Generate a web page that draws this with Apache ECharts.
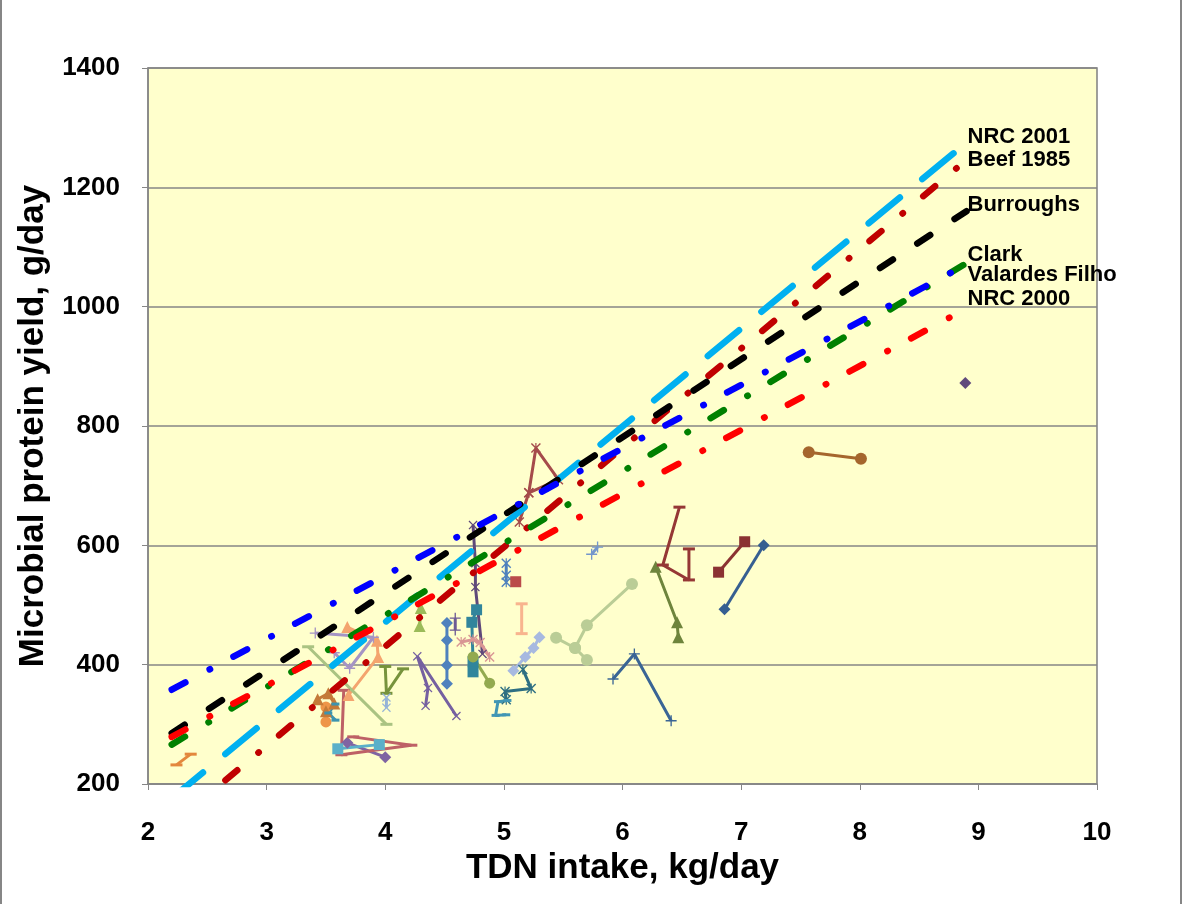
<!DOCTYPE html>
<html>
<head>
<meta charset="utf-8">
<script src="https://cdn.jsdelivr.net/npm/echarts@6/dist/echarts.min.js"></script>
<style>
  html, body { margin: 0; padding: 0; background: #fff; }
  #chart { width: 1183px; height: 904px; }
</style>
</head>
<body>
<div id="chart"></div>
<script>
// model lines, [TDN kg/day, MCP g/day]
var nrc2001   = [[2.2, 176], [8.9, 1275]];
var beef1985  = [[2.2, 131], [8.9, 1246]];
var burroughs = [[2.2, 285], [8.9, 1160]];
var clark     = [[2.2, 266], [8.9, 1073]];
var valadares = [[2.2, 358], [8.9, 1071]];
var nrc2000   = [[2.2, 279], [8.9, 997]];
var modelNames = ['NRC 2001', 'Beef 1985', 'Burroughs', 'Clark', 'Valardes Filho', 'NRC 2000'];

// observed trials
var orangeDash      = [[2.24, 232], [2.36, 250]];
var purpleDiamond   = [[3.68, 269], [4.0, 245]];
var roseDash        = [[3.65, 357], [3.63, 249], [4.22, 265], [3.73, 279]];
var aquaSquare      = [[3.6, 259], [3.95, 266]];
var orangeCircle    = [[3.5, 329], [3.5, 304]];
var brownTriangle   = [[3.43, 342], [3.52, 352], [3.57, 335], [3.5, 322]];
var tealCheck       = [[3.58, 334], [3.52, 319], [3.58, 307]];
var salmonTriangle  = [[3.68, 463], [3.93, 440], [3.94, 413], [3.69, 349]];
var lilacPlus       = [[3.41, 453], [3.9, 446], [3.7, 394], [3.57, 420]];
var sageDash        = [[3.35, 430], [4.01, 300]];
var oliveDash       = [[4.0, 397], [4.01, 352], [4.15, 393]];
var steelX          = [[4.01, 345], [4.01, 328]];
var greenTriangle   = [[4.3, 495], [4.29, 465]];
var purpleX         = [[4.34, 331], [4.36, 361], [4.27, 414], [4.6, 314]];
var blueDiamond     = [[4.52, 470], [4.52, 441], [4.52, 399], [4.52, 368]];
var plumPlus        = [[4.59, 478], [4.59, 458]];
var darkPurpleX     = [[4.74, 634], [4.76, 570], [4.76, 530], [4.82, 418]];
var tealSquare      = [[4.77, 492], [4.73, 471], [4.74, 405], [4.74, 388]];
var pinkStar        = [[4.64, 438], [4.74, 442], [4.8, 437], [4.88, 413]];
var oliveCircle     = [[4.74, 413], [4.88, 369]];
var blueX           = [[5.02, 570], [5.02, 550], [5.02, 538]];
var redSquare       = [[5.1, 539]];
var tealStar        = [[5.02, 341], [5.01, 355], [5.23, 360], [5.16, 392]];
var aquaDash        = [[5.03, 340], [4.95, 338], [4.93, 315], [5.02, 316]];
var lavenderDiamond = [[5.08, 390], [5.18, 413], [5.25, 428], [5.3, 446]];
var peachDash       = [[5.15, 502], [5.15, 452]];
var roseStar        = [[5.13, 639], [5.21, 688], [5.27, 763], [5.46, 710], [5.21, 688]];
var sageCircle      = [[5.44, 445], [5.6, 428], [5.7, 408], [5.6, 428], [5.7, 466], [6.08, 535]];
var skyPlus         = [[5.79, 597], [5.74, 585]];
var navyPlus        = [[5.92, 376], [6.1, 418], [6.41, 306]];
var oliveTriangle   = [[6.28, 564], [6.46, 471], [6.47, 446]];
var maroonDash      = [[6.48, 664], [6.34, 567], [6.56, 542], [6.56, 594]];
var maroonSquare    = [[6.81, 555], [7.03, 606]];
var navyDiamond     = [[6.86, 493], [7.19, 600]];
var brownCircle     = [[7.57, 756], [8.01, 745]];
var plumDiamond     = [[8.89, 872]];

// marker shapes like the spreadsheet ones
var X_MARK = 'path://M1,0L5,4L9,0L10,1L6,5L10,9L9,10L5,6L1,10L0,9L4,5L0,1Z';
var STAR = 'path://M1,0L5,4L9,0L10,1L6,5L10,9L9,10L5,6L1,10L0,9L4,5L0,1Z M4.4,0H5.6V10H4.4Z';
var PLUS = 'path://M4.4,0H5.6V4.4H10V5.6H5.6V10H4.4V5.6H0V4.4H4.4Z';

function trial(data, color, symbol, size) {
    return {
        type: 'line',
        data: data,
        symbol: symbol,
        symbolSize: size,
        showSymbol: true,
        itemStyle: { color: color },
        lineStyle: { color: color, width: 3 },
        z: 2
    };
}

function model(data, name, color, dash, dy) {
    return {
        type: 'line',
        name: name,
        data: data,
        symbol: 'none',
        lineStyle: { color: color, width: 6.5, type: dash, cap: 'round' },
        endLabel: {
            show: true,
            formatter: name,
            distance: 1,
            offset: [0, dy],
            color: '#000',
            fontFamily: 'Liberation Sans, Arial, sans-serif',
            fontWeight: 'bold',
            fontSize: 22
        },
        z: 3
    };
}

var dashDot = [15.5, 27.5, 0.5, 26.5];

var series = [
    trial(orangeDash, '#E3883D', 'rect', [12, 3]),
    trial(purpleDiamond, '#8064A2', 'diamond', 12),
    trial(roseDash, '#BE6166', 'rect', [12, 3]),
    trial(aquaSquare, '#5BB0C9', 'rect', 11),
    trial(orangeCircle, '#EE9549', 'circle', 11),
    trial(brownTriangle, '#C47A38', 'triangle', 12),
    trial(tealCheck, '#3C94AF', 'rect', [8, 3]),
    trial(salmonTriangle, '#F4A46E', 'triangle', 12),
    trial(lilacPlus, '#A594C4', PLUS, 11),
    trial(sageDash, '#AAC382', 'rect', [12, 3]),
    trial(oliveDash, '#77933C', 'rect', [12, 3]),
    trial(steelX, '#95B3D7', X_MARK, 9),
    trial(greenTriangle, '#9BBB59', 'triangle', 12),
    trial(purpleX, '#7560A0', X_MARK, 9),
    trial(blueDiamond, '#4F81BD', 'diamond', 12),
    trial(plumPlus, '#6E5A94', PLUS, 11),
    trial(darkPurpleX, '#5F497A', X_MARK, 9),
    trial(tealSquare, '#31859C', 'rect', 11),
    trial(pinkStar, '#D99694', STAR, 10),
    trial(oliveCircle, '#93AA50', 'circle', 11),
    trial(blueX, '#4F81BD', STAR, 10),
    trial(redSquare, '#BA4B4A', 'rect', 11),
    trial(tealStar, '#2E6F82', STAR, 10),
    trial(aquaDash, '#4196B4', 'rect', [8, 3]),
    trial(lavenderDiamond, '#A7B9E0', 'diamond', 12),
    trial(peachDash, '#F8B48E', 'rect', [12, 3]),
    trial(roseStar, '#A54B4B', STAR, 10),
    trial(sageCircle, '#BACD96', 'circle', 12),
    trial(skyPlus, '#7396CC', PLUS, 11),
    trial(navyPlus, '#3A6595', PLUS, 11),
    trial(oliveTriangle, '#6E843C', 'triangle', 12),
    trial(maroonDash, '#953735', 'rect', [12, 3]),
    trial(maroonSquare, '#8B3232', 'rect', 11),
    trial(navyDiamond, '#365F91', 'diamond', 12),
    trial(brownCircle, '#A5662D', 'circle', 12),
    trial(plumDiamond, '#604A7B', 'diamond', 12),
    model(nrc2001, modelNames[0], '#00B0F0', [40.5, 29], -6),
    model(beef1985, modelNames[1], '#C00000', dashDot, 0),
    model(burroughs, modelNames[2], '#000000', [15.5, 29.1], -6),
    model(clark, modelNames[3], '#008000', dashDot, -8),
    model(valadares, modelNames[4], '#0000FF', dashDot, 11),
    model(nrc2000, modelNames[5], '#FF0000', dashDot, -10)
];

var axisFont = { fontFamily: 'Liberation Sans, Arial, sans-serif', fontWeight: 'bold', color: '#000' };

var option = {
    animation: false,
    backgroundColor: '#fff',
    grid: {
        left: 148, top: 68, right: 86, bottom: 120,
        show: true, backgroundColor: '#FFFFCC', borderColor: '#808080', borderWidth: 1.5
    },
    xAxis: {
        type: 'value', min: 2, max: 10, interval: 1,
        name: 'TDN intake, kg/day', nameLocation: 'middle', nameGap: 62,
        nameTextStyle: Object.assign({ fontSize: 35 }, axisFont),
        axisLine: { lineStyle: { color: '#868686', width: 1.5 } },
        axisTick: { show: true, inside: false, length: 6, lineStyle: { color: '#868686' } },
        axisLabel: Object.assign({ fontSize: 26, margin: 36 }, axisFont),
        splitLine: { show: false }
    },
    yAxis: {
        type: 'value', min: 200, max: 1400, interval: 200,
        name: 'Microbial protein yield, g/day', nameLocation: 'middle', nameGap: 83, nameRotate: 90,
        nameTextStyle: Object.assign({ fontSize: 35 }, axisFont),
        axisLine: { show: true, lineStyle: { color: '#868686', width: 1.5 } },
        axisTick: { show: true, inside: false, length: 6, lineStyle: { color: '#868686' } },
        axisLabel: Object.assign({ fontSize: 26, margin: 28, formatter: function (v) { return String(v); } }, axisFont),
        splitLine: { show: true, lineStyle: { color: '#868686', width: 1.5 } }
    },
    graphic: [
        { type: 'line', shape: { x1: 1, y1: 0, x2: 1, y2: 904 }, style: { stroke: '#868686', lineWidth: 2 } },
        { type: 'line', shape: { x1: 1181, y1: 0, x2: 1181, y2: 904 }, style: { stroke: '#868686', lineWidth: 2 } }
    ],
    series: series
};

var chart = echarts.init(document.getElementById('chart'), null, { renderer: 'canvas' });
chart.setOption(option);
</script>
</body>
</html>
